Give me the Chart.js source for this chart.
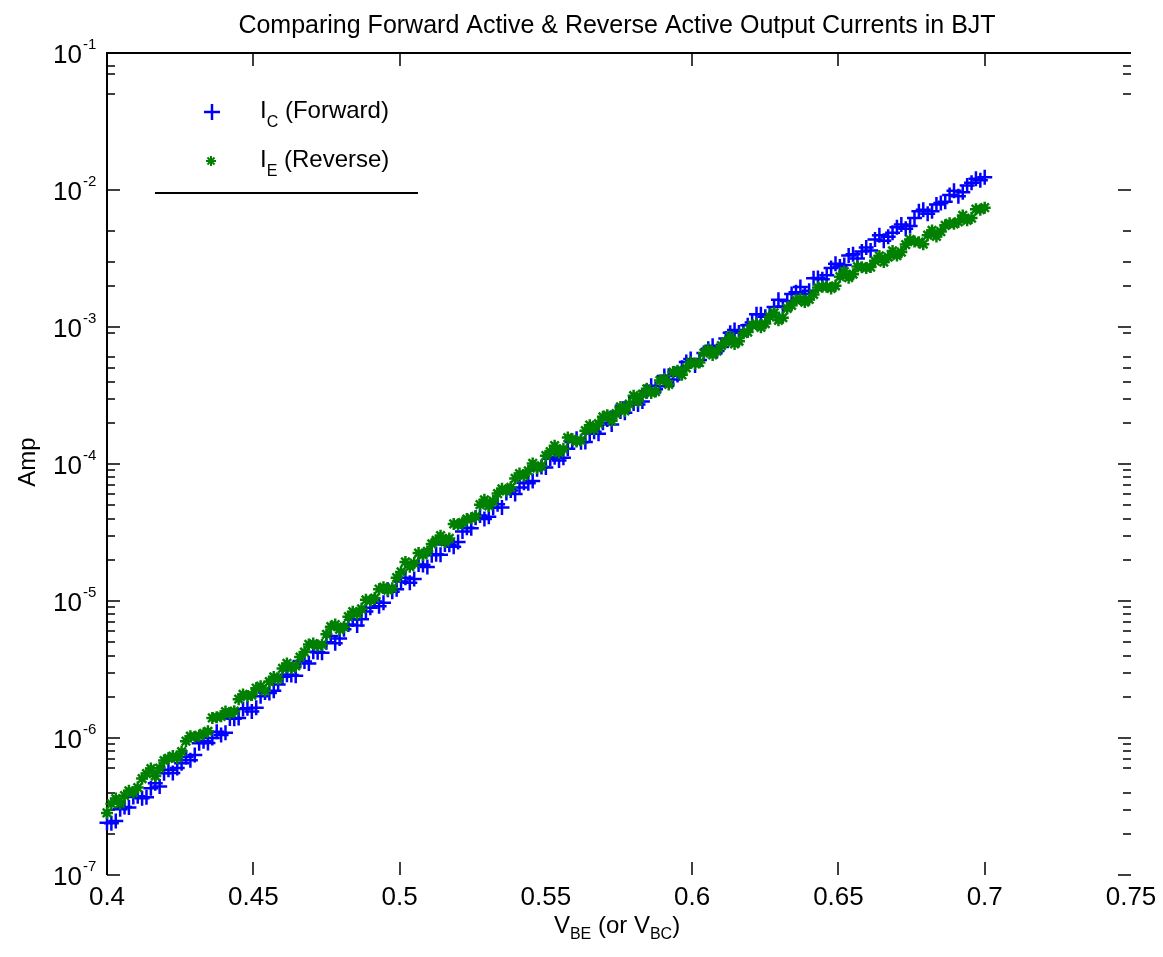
<!DOCTYPE html>
<html lang="en">
<head>
<meta charset="UTF-8" />
<title>Forward vs Reverse Active Output Current</title>
<script src="https://cdn.jsdelivr.net/npm/chart.js"></script>
<style>
  body { margin: 0; background: #fff; }
  #wrap { width: 1163px; height: 957px; }
</style>
</head>
<body>
<div id="wrap"><canvas id="bjtChart"></canvas></div>
<script>
// junction bias (V_BE for forward, V_BC for reverse), volts
const vBias = [
  0.4000,0.4015,0.4030,0.4045,0.4060,0.4075,0.4090,0.4105,0.4120,0.4135,
  0.4150,0.4165,0.4180,0.4195,0.4210,0.4225,0.4240,0.4255,0.4270,0.4285,
  0.4300,0.4315,0.4330,0.4345,0.4360,0.4375,0.4390,0.4405,0.4420,0.4435,
  0.4450,0.4465,0.4480,0.4495,0.4510,0.4525,0.4540,0.4555,0.4570,0.4585,
  0.4600,0.4615,0.4630,0.4645,0.4660,0.4675,0.4690,0.4705,0.4720,0.4735,
  0.4750,0.4765,0.4780,0.4795,0.4810,0.4825,0.4840,0.4855,0.4870,0.4885,
  0.4900,0.4915,0.4930,0.4945,0.4960,0.4975,0.4990,0.5005,0.5020,0.5035,
  0.5050,0.5065,0.5080,0.5095,0.5110,0.5125,0.5140,0.5155,0.5170,0.5185,
  0.5200,0.5215,0.5230,0.5245,0.5260,0.5275,0.5290,0.5305,0.5320,0.5335,
  0.5350,0.5365,0.5380,0.5395,0.5410,0.5425,0.5440,0.5455,0.5470,0.5485,
  0.5500,0.5515,0.5530,0.5545,0.5560,0.5575,0.5590,0.5605,0.5620,0.5635,
  0.5650,0.5665,0.5680,0.5695,0.5710,0.5725,0.5740,0.5755,0.5770,0.5785,
  0.5800,0.5815,0.5830,0.5845,0.5860,0.5875,0.5890,0.5905,0.5920,0.5935,
  0.5950,0.5965,0.5980,0.5995,0.6010,0.6025,0.6040,0.6055,0.6070,0.6085,
  0.6100,0.6115,0.6130,0.6145,0.6160,0.6175,0.6190,0.6205,0.6220,0.6235,
  0.6250,0.6265,0.6280,0.6295,0.6310,0.6325,0.6340,0.6355,0.6370,0.6385,
  0.6400,0.6415,0.6430,0.6445,0.6460,0.6475,0.6490,0.6505,0.6520,0.6535,
  0.6550,0.6565,0.6580,0.6595,0.6610,0.6625,0.6640,0.6655,0.6670,0.6685,
  0.6700,0.6715,0.6730,0.6745,0.6760,0.6775,0.6790,0.6805,0.6820,0.6835,
  0.6850,0.6865,0.6880,0.6895,0.6910,0.6925,0.6940,0.6955,0.6970,0.6985,
  0.7000
];

// collector current, forward active (A)
const icForward = [
  2.41e-7,2.39e-7,2.48e-7,3.02e-7,3.14e-7,3.11e-7,3.71e-7,3.76e-7,3.64e-7,3.69e-7,
  4.30e-7,4.67e-7,4.43e-7,5.52e-7,5.86e-7,5.55e-7,6.03e-7,6.55e-7,7.28e-7,6.89e-7,
  7.50e-7,9.14e-7,9.48e-7,9.18e-7,9.98e-7,1.11e-6,1.05e-6,1.09e-6,1.39e-6,1.38e-6,
  1.40e-6,1.63e-6,1.65e-6,1.56e-6,1.66e-6,2.02e-6,2.15e-6,2.13e-6,2.21e-6,2.46e-6,
  2.80e-6,2.90e-6,2.88e-6,2.85e-6,3.65e-6,3.61e-6,3.50e-6,4.27e-6,4.23e-6,4.19e-6,
  4.99e-6,5.55e-6,4.91e-6,5.33e-6,6.21e-6,6.75e-6,7.33e-6,6.62e-6,7.36e-6,8.38e-6,
  8.91e-6,9.91e-6,9.16e-6,9.73e-6,1.21e-5,1.17e-5,1.22e-5,1.39e-5,1.48e-5,1.36e-5,
  1.45e-5,1.85e-5,1.83e-5,1.77e-5,2.16e-5,2.19e-5,2.18e-5,2.59e-5,2.57e-5,2.49e-5,
  2.70e-5,3.22e-5,3.42e-5,3.39e-5,4.05e-5,4.20e-5,3.97e-5,4.12e-5,4.80e-5,5.09e-5,
  4.82e-5,6.15e-5,6.40e-5,6.05e-5,6.73e-5,7.31e-5,7.24e-5,7.52e-5,9.16e-5,9.51e-5,
  9.44e-5,1.09e-4,1.12e-4,1.06e-4,1.11e-4,1.29e-4,1.45e-4,1.53e-4,1.44e-4,1.45e-4,
  1.67e-4,1.72e-4,1.66e-4,2.00e-4,2.11e-4,1.94e-4,2.40e-4,2.42e-4,2.37e-4,2.81e-4,
  2.76e-4,2.72e-4,2.86e-4,3.39e-4,3.73e-4,3.51e-4,3.70e-4,4.38e-4,4.40e-4,4.13e-4,
  4.46e-4,5.04e-4,5.56e-4,5.85e-4,5.24e-4,5.75e-4,6.47e-4,6.95e-4,7.30e-4,6.67e-4,
  7.16e-4,8.24e-4,9.06e-4,9.51e-4,9.10e-4,9.33e-4,1.03e-3,1.08e-3,1.24e-3,1.24e-3,
  1.19e-3,1.22e-3,1.40e-3,1.58e-3,1.41e-3,1.55e-3,1.74e-3,1.79e-3,1.96e-3,1.75e-3,
  1.84e-3,2.27e-3,2.28e-3,2.23e-3,2.39e-3,2.69e-3,2.89e-3,2.76e-3,2.83e-3,3.32e-3,
  3.39e-3,3.16e-3,3.55e-3,3.80e-3,3.62e-3,4.36e-3,4.67e-3,4.26e-3,4.55e-3,4.88e-3,
  5.35e-3,5.60e-3,5.21e-3,5.46e-3,6.25e-3,7.01e-3,7.18e-3,6.70e-3,7.00e-3,7.85e-3,
  8.04e-3,8.22e-3,9.20e-3,9.86e-3,9.00e-3,9.64e-3,1.08e-2,1.13e-2,1.21e-2,1.18e-2,
  1.24e-2
];

// emitter current, reverse active (A)
const ieReverse = [
  2.84e-7,3.31e-7,3.61e-7,3.33e-7,3.79e-7,4.12e-7,4.00e-7,4.35e-7,5.06e-7,5.50e-7,
  5.98e-7,5.28e-7,6.03e-7,6.85e-7,7.11e-7,7.38e-7,7.16e-7,7.96e-7,9.48e-7,1.03e-6,
  1.02e-6,1.04e-6,1.08e-6,1.12e-6,1.40e-6,1.42e-6,1.44e-6,1.56e-6,1.51e-6,1.57e-6,
  1.92e-6,2.08e-6,2.02e-6,2.06e-6,2.31e-6,2.39e-6,2.21e-6,2.58e-6,2.79e-6,2.70e-6,
  3.22e-6,3.50e-6,3.24e-6,3.36e-6,3.90e-6,4.24e-6,4.82e-6,4.89e-6,4.73e-6,4.80e-6,
  5.71e-6,6.49e-6,6.73e-6,6.22e-6,6.46e-6,7.69e-6,8.36e-6,8.07e-6,8.77e-6,1.02e-5,
  1.01e-5,1.05e-5,1.22e-5,1.26e-5,1.20e-5,1.24e-5,1.48e-5,1.63e-5,1.93e-5,1.78e-5,
  1.89e-5,2.24e-5,2.17e-5,2.30e-5,2.61e-5,2.77e-5,3.00e-5,2.70e-5,2.86e-5,3.65e-5,
  3.61e-5,3.74e-5,3.96e-5,4.01e-5,4.15e-5,5.05e-5,5.48e-5,4.94e-5,5.36e-5,6.08e-5,
  6.59e-5,6.37e-5,6.76e-5,7.85e-5,8.51e-5,8.22e-5,8.91e-5,1.01e-4,9.35e-5,9.68e-5,
  1.15e-4,1.23e-4,1.36e-4,1.21e-4,1.29e-4,1.56e-4,1.52e-4,1.46e-4,1.49e-4,1.75e-4,
  1.92e-4,1.80e-4,1.97e-4,2.21e-4,2.27e-4,2.07e-4,2.33e-4,2.61e-4,2.44e-4,2.74e-4,
  3.15e-4,2.87e-4,3.23e-4,3.54e-4,3.30e-4,3.38e-4,4.07e-4,4.17e-4,3.81e-4,4.69e-4,
  4.80e-4,4.48e-4,5.04e-4,5.52e-4,5.40e-4,5.50e-4,6.44e-4,6.87e-4,6.25e-4,6.67e-4,
  7.30e-4,7.78e-4,8.49e-4,7.53e-4,7.87e-4,9.00e-4,9.18e-4,1.03e-3,1.05e-3,9.95e-4,
  1.06e-3,1.19e-3,1.27e-3,1.12e-3,1.17e-3,1.37e-3,1.44e-3,1.57e-3,1.60e-3,1.52e-3,
  1.59e-3,1.73e-3,1.94e-3,1.97e-3,1.97e-3,1.91e-3,2.00e-3,2.33e-3,2.54e-3,2.29e-3,
  2.43e-3,2.76e-3,2.73e-3,2.70e-3,2.74e-3,3.04e-3,3.30e-3,2.98e-3,3.23e-3,3.59e-3,
  3.32e-3,3.52e-3,4.00e-3,4.35e-3,4.20e-3,4.16e-3,4.02e-3,4.68e-3,5.07e-3,4.58e-3,
  4.97e-3,5.52e-3,5.71e-3,5.66e-3,5.86e-3,6.52e-3,6.01e-3,6.24e-3,7.24e-3,7.18e-3,
  7.43e-3
];

// axis ticks
const xTickValues = [0.4, 0.45, 0.5, 0.55, 0.6, 0.65, 0.7, 0.75];
const xTickLabels = ['0.4', '0.45', '0.5', '0.55', '0.6', '0.65', '0.7', '0.75'];
const xTickMarks = [0.45, 0.5, 0.6, 0.65, 0.7];
const yDecades = [-1, -2, -3, -4, -5, -6, -7];
// minor tick mantissas per decade (keyed by the lower power of ten)
const yMinorMarks = {
  '-2': [8, 7, 5],
  '-3': [5, 3, 2],
  '-4': [9, 6, 5, 4, 3, 2],
  '-5': [9, 8, 7, 6, 5, 4, 3, 2],
  '-6': [9, 8, 7, 6, 5, 4, 3, 2],
  '-7': [9, 8, 7, 6, 4, 3, 2]
};

const FONT = '"Liberation Sans", Arial, sans-serif';
const BLUE = '#0000ff';
const GREEN = '#008000';

function font(size) { return size + 'px ' + FONT; }

// draws runs of [text, size, dy] left to right, returns end x
function drawRuns(ctx, runs, x, y) {
  runs.forEach(([txt, size, dy]) => {
    ctx.font = font(size);
    ctx.fillText(txt, x, y + dy);
    x += ctx.measureText(txt).width;
  });
  return x;
}
function runsWidth(ctx, runs) {
  let w = 0;
  runs.forEach(([txt, size]) => { ctx.font = font(size); w += ctx.measureText(txt).width; });
  return w;
}

function plusMark(ctx, cx, cy, r) {
  ctx.moveTo(cx - r, cy); ctx.lineTo(cx + r, cy);
  ctx.moveTo(cx, cy - r); ctx.lineTo(cx, cy + r);
}
function starMark(ctx, cx, cy, r) {
  plusMark(ctx, cx, cy, r);
  const d = r * Math.SQRT1_2;
  ctx.moveTo(cx - d, cy - d); ctx.lineTo(cx + d, cy + d);
  ctx.moveTo(cx - d, cy + d); ctx.lineTo(cx + d, cy - d);
}

const axesFrame = {
  id: 'axesFrame',
  beforeDatasetsDraw(chart) {
    const { ctx, chartArea: a, scales: { x, y } } = chart;
    ctx.save();
    ctx.strokeStyle = '#000';
    ctx.lineWidth = 2;
    ctx.beginPath();
    ctx.moveTo(a.left, a.bottom);
    ctx.lineTo(a.left, a.top);
    ctx.lineTo(a.right, a.top);
    ctx.stroke();

    ctx.lineWidth = 1.5;
    ctx.beginPath();
    xTickMarks.forEach(v => {
      const px = Math.round(x.getPixelForValue(v));
      ctx.moveTo(px, a.top); ctx.lineTo(px, a.top + 13);
      ctx.moveTo(px, a.bottom); ctx.lineTo(px, a.bottom - 13);
    });
    yDecades.forEach(d => {
      const py = Math.round(y.getPixelForValue(Math.pow(10, d)));
      ctx.moveTo(a.left, py); ctx.lineTo(a.left + 13, py);
      ctx.moveTo(a.right, py); ctx.lineTo(a.right - 13, py);
    });
    Object.entries(yMinorMarks).forEach(([d, list]) => {
      list.forEach(m => {
        const py = Math.round(y.getPixelForValue(m * Math.pow(10, +d)));
        ctx.moveTo(a.left, py); ctx.lineTo(a.left + 8, py);
        ctx.moveTo(a.right, py); ctx.lineTo(a.right - 8, py);
      });
    });
    ctx.stroke();
    ctx.restore();
  },
  afterDraw(chart) {
    const { ctx, scales: { x, y } } = chart;
    ctx.save();
    ctx.fillStyle = '#000';
    ctx.textBaseline = 'alphabetic';

    // title
    ctx.font = font(25);
    ctx.textAlign = 'center';
    ctx.fillText('Comparing Forward Active & Reverse Active Output Currents in BJT', 617, 33);

    // x tick labels
    ctx.font = font(26);
    xTickValues.forEach((v, i) => {
      ctx.fillText(xTickLabels[i], x.getPixelForValue(v), 905);
    });

    // y tick labels, 10^d
    ctx.textAlign = 'left';
    yDecades.forEach(d => {
      const py = y.getPixelForValue(Math.pow(10, d));
      ctx.font = font(26);
      const w = ctx.measureText('10').width;
      ctx.fillText('10', 82 - w, py + 10);
      ctx.font = font(15);
      ctx.fillText('-' + Math.abs(d), 83, py - 4);
    });

    // x axis title: V_BE (or V_BC)
    const xTitle = [['V', 24, 0], ['BE', 16, 6], [' (or V', 24, 0], ['BC', 16, 6], [')', 24, 0]];
    drawRuns(ctx, xTitle, 617 - runsWidth(ctx, xTitle) / 2, 933);

    // y axis title
    ctx.save();
    ctx.translate(35, 462);
    ctx.rotate(-Math.PI / 2);
    ctx.font = font(24);
    ctx.textAlign = 'center';
    ctx.fillText('Amp', 0, 0);
    ctx.restore();

    // legend
    ctx.lineWidth = 2.5;
    ctx.strokeStyle = BLUE;
    ctx.beginPath(); plusMark(ctx, 212, 112, 8); ctx.stroke();
    ctx.strokeStyle = GREEN;
    ctx.lineWidth = 2;
    ctx.beginPath(); starMark(ctx, 211, 161, 5); ctx.stroke();
    ctx.textAlign = 'left';
    drawRuns(ctx, [['I', 24, 0], ['C', 16, 9], [' (Forward)', 24, 0]], 260, 118);
    drawRuns(ctx, [['I', 24, 0], ['E', 16, 9], [' (Reverse)', 24, 0]], 260, 167);
    ctx.strokeStyle = '#000';
    ctx.lineWidth = 2;
    ctx.beginPath();
    ctx.moveTo(155, 193); ctx.lineTo(418, 193);
    ctx.stroke();
    ctx.restore();
  }
};

const toPoints = ys => vBias.map((v, i) => ({ x: v, y: ys[i] }));

new Chart(document.getElementById('bjtChart'), {
  type: 'scatter',
  data: {
    datasets: [
      {
        label: 'I_C (Forward)',
        data: toPoints(icForward),
        pointStyle: 'cross',
        pointRadius: 7.5,
        pointBorderWidth: 2.5,
        borderColor: BLUE,
        backgroundColor: BLUE,
        showLine: false,
        clip: false,
        order: 2
      },
      {
        label: 'I_E (Reverse)',
        data: toPoints(ieReverse),
        pointStyle: 'star',
        pointRadius: 6,
        pointBorderWidth: 2.5,
        borderColor: GREEN,
        backgroundColor: GREEN,
        showLine: false,
        clip: false,
        order: 1
      }
    ]
  },
  options: {
    responsive: true,
    maintainAspectRatio: false,
    animation: false,
    events: [],
    layout: { padding: { left: 107, right: 32, top: 53, bottom: 82 } },
    plugins: { legend: { display: false }, tooltip: { enabled: false }, title: { display: false } },
    scales: {
      x: { type: 'linear', min: 0.4, max: 0.75, display: false },
      y: { type: 'logarithmic', min: 1e-7, max: 1e-1, display: false }
    }
  },
  plugins: [axesFrame]
});
</script>
</body>
</html>
